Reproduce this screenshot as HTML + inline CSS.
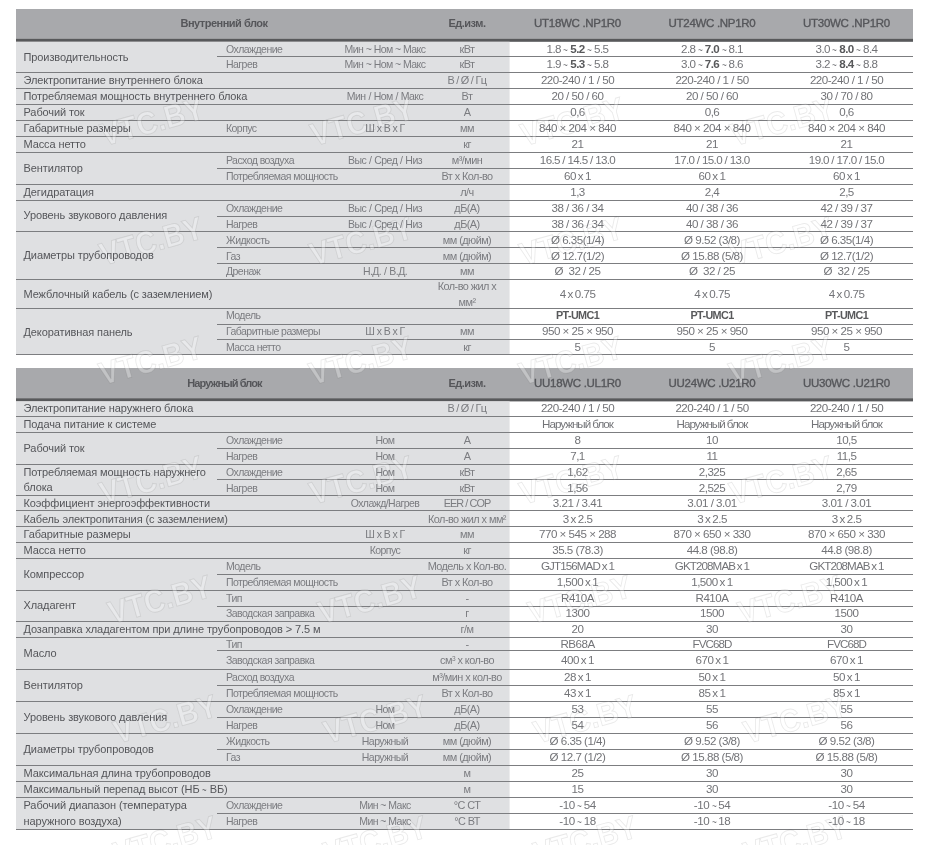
<!DOCTYPE html>
<html lang="ru"><head><meta charset="utf-8"><title>Технические характеристики</title>
<style>
html,body{margin:0;padding:0;background:#fff;}
body{width:931px;height:845px;position:relative;overflow:hidden;font-family:"Liberation Sans",sans-serif;}
svg{position:absolute;left:0;top:0;}
.t{position:absolute;white-space:nowrap;transform:translateY(-50%);line-height:1;}
.t.m{transform:translateY(-50%) scaleY(1);}
.t.h{transform:translateY(-50%) translateY(-1px) scaleY(1);}
.td{display:inline-block;transform:scaleX(0.7);margin:0 -1.0px;position:relative;top:1px;}
.t.hm{-webkit-text-stroke:0.35px #55565a;}
.t.c{width:300px;text-align:center;}
.m{font-size:11px;letter-spacing:-0.1px;color:#55565a;}
.s{font-size:10.5px;letter-spacing:-0.55px;color:#7b7c80;}
.v{font-size:11.6px;letter-spacing:-0.5px;color:#737478;}
.v b{font-weight:bold;color:#58595b;}
.v.b{font-weight:bold;color:#58595b;font-size:10.8px;letter-spacing:-0.6px;}
.h{font-size:11px;letter-spacing:-0.5px;color:#55565a;font-weight:bold;}
.hm{font-size:11.5px;letter-spacing:-0.3px;color:#55565a;}
sup{font-size:60%;vertical-align:baseline;position:relative;top:-0.45em;}
.wm{font-family:"Liberation Sans",sans-serif;font-size:32px;font-weight:bold;fill:rgba(255,255,255,0.3);stroke:rgba(0,0,0,0.085);stroke-width:1;text-anchor:middle;dominant-baseline:central;}
</style></head><body>
<svg width="931" height="845" viewBox="0 0 931 845">
<rect x="16" y="9" width="897" height="29.6" fill="#a8a9ac"/>
<rect x="16" y="38.6" width="897" height="3.2" fill="#58595b"/>
<rect x="16" y="41.8" width="493.6" height="313.0" fill="#dfe0e2"/>
<rect x="217.0" y="56" width="696.0" height="1" fill="#7c7d80"/>
<rect x="16" y="72" width="897" height="1" fill="#7c7d80"/>
<rect x="16" y="88" width="897" height="1" fill="#7c7d80"/>
<rect x="16" y="104" width="897" height="1" fill="#7c7d80"/>
<rect x="16" y="120" width="897" height="1" fill="#7c7d80"/>
<rect x="16" y="136" width="897" height="1" fill="#7c7d80"/>
<rect x="16" y="152" width="897" height="1" fill="#7c7d80"/>
<rect x="217.0" y="168" width="696.0" height="1" fill="#7c7d80"/>
<rect x="16" y="184" width="897" height="1" fill="#7c7d80"/>
<rect x="16" y="200" width="897" height="1" fill="#7c7d80"/>
<rect x="217.0" y="216" width="696.0" height="1" fill="#7c7d80"/>
<rect x="16" y="231" width="897" height="1" fill="#7c7d80"/>
<rect x="217.0" y="247" width="696.0" height="1" fill="#7c7d80"/>
<rect x="217.0" y="263" width="696.0" height="1" fill="#7c7d80"/>
<rect x="16" y="279" width="897" height="1" fill="#7c7d80"/>
<rect x="16" y="308" width="897" height="1" fill="#7c7d80"/>
<rect x="217.0" y="324" width="696.0" height="1" fill="#7c7d80"/>
<rect x="217.0" y="339" width="696.0" height="1" fill="#7c7d80"/>
<rect x="16" y="354" width="897" height="1" fill="#7c7d80"/>
<rect x="16" y="368" width="897" height="30.19999999999999" fill="#a8a9ac"/>
<rect x="16" y="398.2" width="897" height="3.2" fill="#58595b"/>
<rect x="16" y="401.4" width="493.6" height="427.9" fill="#dfe0e2"/>
<rect x="16" y="416" width="897" height="1" fill="#7c7d80"/>
<rect x="16" y="432" width="897" height="1" fill="#7c7d80"/>
<rect x="217.0" y="448" width="696.0" height="1" fill="#7c7d80"/>
<rect x="16" y="464" width="897" height="1" fill="#7c7d80"/>
<rect x="217.0" y="479" width="696.0" height="1" fill="#7c7d80"/>
<rect x="16" y="495" width="897" height="1" fill="#7c7d80"/>
<rect x="16" y="510" width="897" height="1" fill="#7c7d80"/>
<rect x="16" y="526" width="897" height="1" fill="#7c7d80"/>
<rect x="16" y="542" width="897" height="1" fill="#7c7d80"/>
<rect x="16" y="558" width="897" height="1" fill="#7c7d80"/>
<rect x="217.0" y="574" width="696.0" height="1" fill="#7c7d80"/>
<rect x="16" y="590" width="897" height="1" fill="#7c7d80"/>
<rect x="217.0" y="606" width="696.0" height="1" fill="#7c7d80"/>
<rect x="16" y="621" width="897" height="1" fill="#7c7d80"/>
<rect x="16" y="637" width="897" height="1" fill="#7c7d80"/>
<rect x="217.0" y="650" width="696.0" height="1" fill="#7c7d80"/>
<rect x="16" y="669" width="897" height="1" fill="#7c7d80"/>
<rect x="217.0" y="685" width="696.0" height="1" fill="#7c7d80"/>
<rect x="16" y="701" width="897" height="1" fill="#7c7d80"/>
<rect x="217.0" y="717" width="696.0" height="1" fill="#7c7d80"/>
<rect x="16" y="733" width="897" height="1" fill="#7c7d80"/>
<rect x="217.0" y="749" width="696.0" height="1" fill="#7c7d80"/>
<rect x="16" y="765" width="897" height="1" fill="#7c7d80"/>
<rect x="16" y="781" width="897" height="1" fill="#7c7d80"/>
<rect x="16" y="797" width="897" height="1" fill="#7c7d80"/>
<rect x="217.0" y="813" width="696.0" height="1" fill="#7c7d80"/>
<rect x="16" y="829" width="897" height="1" fill="#7c7d80"/>
<text x="0" y="0" transform="translate(152.0 121.0) rotate(-15.5) scale(0.9 1)" class="wm">VTC.BY</text>
<text x="0" y="0" transform="translate(362.0 121.0) rotate(-15.5) scale(0.9 1)" class="wm">VTC.BY</text>
<text x="0" y="0" transform="translate(572.0 121.0) rotate(-15.5) scale(0.9 1)" class="wm">VTC.BY</text>
<text x="0" y="0" transform="translate(782.0 121.0) rotate(-15.5) scale(0.9 1)" class="wm">VTC.BY</text>
<text x="0" y="0" transform="translate(151.0 240.5) rotate(-15.5) scale(0.9 1)" class="wm">VTC.BY</text>
<text x="0" y="0" transform="translate(361.0 240.5) rotate(-15.5) scale(0.9 1)" class="wm">VTC.BY</text>
<text x="0" y="0" transform="translate(571.0 240.5) rotate(-15.5) scale(0.9 1)" class="wm">VTC.BY</text>
<text x="0" y="0" transform="translate(781.0 240.5) rotate(-15.5) scale(0.9 1)" class="wm">VTC.BY</text>
<text x="0" y="0" transform="translate(150.5 360.0) rotate(-15.5) scale(0.9 1)" class="wm">VTC.BY</text>
<text x="0" y="0" transform="translate(360.5 360.0) rotate(-15.5) scale(0.9 1)" class="wm">VTC.BY</text>
<text x="0" y="0" transform="translate(570.5 360.0) rotate(-15.5) scale(0.9 1)" class="wm">VTC.BY</text>
<text x="0" y="0" transform="translate(780.5 360.0) rotate(-15.5) scale(0.9 1)" class="wm">VTC.BY</text>
<text x="0" y="0" transform="translate(151.0 479.5) rotate(-15.5) scale(0.9 1)" class="wm">VTC.BY</text>
<text x="0" y="0" transform="translate(361.0 479.5) rotate(-15.5) scale(0.9 1)" class="wm">VTC.BY</text>
<text x="0" y="0" transform="translate(571.0 479.5) rotate(-15.5) scale(0.9 1)" class="wm">VTC.BY</text>
<text x="0" y="0" transform="translate(781.0 479.5) rotate(-15.5) scale(0.9 1)" class="wm">VTC.BY</text>
<text x="0" y="0" transform="translate(159.5 599.0) rotate(-15.5) scale(0.9 1)" class="wm">VTC.BY</text>
<text x="0" y="0" transform="translate(369.5 599.0) rotate(-15.5) scale(0.9 1)" class="wm">VTC.BY</text>
<text x="0" y="0" transform="translate(579.5 599.0) rotate(-15.5) scale(0.9 1)" class="wm">VTC.BY</text>
<text x="0" y="0" transform="translate(789.5 599.0) rotate(-15.5) scale(0.9 1)" class="wm">VTC.BY</text>
<text x="0" y="0" transform="translate(165.0 718.5) rotate(-15.5) scale(0.9 1)" class="wm">VTC.BY</text>
<text x="0" y="0" transform="translate(375.0 718.5) rotate(-15.5) scale(0.9 1)" class="wm">VTC.BY</text>
<text x="0" y="0" transform="translate(585.0 718.5) rotate(-15.5) scale(0.9 1)" class="wm">VTC.BY</text>
<text x="0" y="0" transform="translate(795.0 718.5) rotate(-15.5) scale(0.9 1)" class="wm">VTC.BY</text>
<text x="0" y="0" transform="translate(165.0 839.5) rotate(-15.5) scale(0.9 1)" class="wm">VTC.BY</text>
<text x="0" y="0" transform="translate(375.0 839.5) rotate(-15.5) scale(0.9 1)" class="wm">VTC.BY</text>
<text x="0" y="0" transform="translate(585.0 839.5) rotate(-15.5) scale(0.9 1)" class="wm">VTC.BY</text>
<text x="0" y="0" transform="translate(795.0 839.5) rotate(-15.5) scale(0.9 1)" class="wm">VTC.BY</text>
</svg>
<div class="t c h" style="left:74px;top:23.8px;">Внутренний блок</div>
<div class="t c h" style="left:317px;top:23.8px;">Ед.изм.</div>
<div class="t c hm" style="left:427.5px;top:23.8px;">UT18WC .NP1R0</div>
<div class="t c hm" style="left:562px;top:23.8px;">UT24WC .NP1R0</div>
<div class="t c hm" style="left:696.5px;top:23.8px;">UT30WC .NP1R0</div>
<div class="t s" style="left:226px;top:48.95px;">Охлаждение</div>
<div class="t c s" style="left:235px;top:48.95px;">Мин ~ Ном ~ Макс</div>
<div class="t c s" style="left:317px;top:48.95px;font-size:10.9px;">кВт</div>
<div class="t c v" style="left:427.5px;top:48.95px;word-spacing:-0.3px;">1.8 <span class="td">~</span> <b>5.2</b> <span class="td">~</span> 5.5</div>
<div class="t c v" style="left:562px;top:48.95px;word-spacing:-0.3px;">2.8 <span class="td">~</span> <b>7.0</b> <span class="td">~</span> 8.1</div>
<div class="t c v" style="left:696.5px;top:48.95px;word-spacing:-0.3px;">3.0 <span class="td">~</span> <b>8.0</b> <span class="td">~</span> 8.4</div>
<div class="t s" style="left:226px;top:64.19999999999999px;">Нагрев</div>
<div class="t c s" style="left:235px;top:64.19999999999999px;">Мин ~ Ном ~ Макс</div>
<div class="t c s" style="left:317px;top:64.19999999999999px;font-size:10.9px;">кВт</div>
<div class="t c v" style="left:427.5px;top:64.19999999999999px;word-spacing:-0.3px;">1.9 <span class="td">~</span> <b>5.3</b> <span class="td">~</span> 5.8</div>
<div class="t c v" style="left:562px;top:64.19999999999999px;word-spacing:-0.3px;">3.0 <span class="td">~</span> <b>7.6</b> <span class="td">~</span> 8.6</div>
<div class="t c v" style="left:696.5px;top:64.19999999999999px;word-spacing:-0.3px;">3.2 <span class="td">~</span> <b>8.4</b> <span class="td">~</span> 8.8</div>
<div class="t c s" style="left:317px;top:80.15px;font-size:10.9px;word-spacing:-0.4px;">В / Ø / Гц</div>
<div class="t c v" style="left:427.5px;top:80.15px;">220-240 / 1 / 50</div>
<div class="t c v" style="left:562px;top:80.15px;">220-240 / 1 / 50</div>
<div class="t c v" style="left:696.5px;top:80.15px;">220-240 / 1 / 50</div>
<div class="t c s" style="left:235px;top:96.2px;word-spacing:0.5px;">Мин / Ном / Макс</div>
<div class="t c s" style="left:317px;top:96.2px;font-size:10.9px;">Вт</div>
<div class="t c v" style="left:427.5px;top:96.2px;">20 / 50 / 60</div>
<div class="t c v" style="left:562px;top:96.2px;">20 / 50 / 60</div>
<div class="t c v" style="left:696.5px;top:96.2px;">30 / 70 / 80</div>
<div class="t c s" style="left:317px;top:112.25px;font-size:10.9px;">А</div>
<div class="t c v" style="left:427.5px;top:112.25px;">0,6</div>
<div class="t c v" style="left:562px;top:112.25px;">0,6</div>
<div class="t c v" style="left:696.5px;top:112.25px;">0,6</div>
<div class="t s" style="left:226px;top:128.25px;">Корпус</div>
<div class="t c s" style="left:235px;top:128.25px;">Ш x В x Г</div>
<div class="t c s" style="left:317px;top:128.25px;font-size:10.9px;">мм</div>
<div class="t c v" style="left:427.5px;top:128.25px;">840 × 204 × 840</div>
<div class="t c v" style="left:562px;top:128.25px;">840 × 204 × 840</div>
<div class="t c v" style="left:696.5px;top:128.25px;">840 × 204 × 840</div>
<div class="t c s" style="left:317px;top:144.2px;font-size:10.9px;">кг</div>
<div class="t c v" style="left:427.5px;top:144.2px;">21</div>
<div class="t c v" style="left:562px;top:144.2px;">21</div>
<div class="t c v" style="left:696.5px;top:144.2px;">21</div>
<div class="t s" style="left:226px;top:160.25px;">Расход воздуха</div>
<div class="t c s" style="left:235px;top:160.25px;word-spacing:0.5px;">Выс / Сред / Низ</div>
<div class="t c s" style="left:317px;top:160.25px;font-size:10.9px;">м³/мин</div>
<div class="t c v" style="left:427.5px;top:160.25px;letter-spacing:-0.65px;">16.5 / 14.5 / 13.0</div>
<div class="t c v" style="left:562px;top:160.25px;letter-spacing:-0.65px;">17.0 / 15.0 / 13.0</div>
<div class="t c v" style="left:696.5px;top:160.25px;letter-spacing:-0.65px;">19.0 / 17.0 / 15.0</div>
<div class="t s" style="left:226px;top:176.35000000000002px;">Потребляемая мощность</div>
<div class="t c s" style="left:317px;top:176.35000000000002px;font-size:10.9px;">Вт x Кол-во</div>
<div class="t c v" style="left:427.5px;top:176.35000000000002px;word-spacing:-0.8px;">60 x 1</div>
<div class="t c v" style="left:562px;top:176.35000000000002px;word-spacing:-0.8px;">60 x 1</div>
<div class="t c v" style="left:696.5px;top:176.35000000000002px;word-spacing:-0.8px;">60 x 1</div>
<div class="t c s" style="left:317px;top:192.4px;font-size:10.9px;">л/ч</div>
<div class="t c v" style="left:427.5px;top:192.4px;">1,3</div>
<div class="t c v" style="left:562px;top:192.4px;">2,4</div>
<div class="t c v" style="left:696.5px;top:192.4px;">2,5</div>
<div class="t s" style="left:226px;top:208.2px;">Охлаждение</div>
<div class="t c s" style="left:235px;top:208.2px;word-spacing:0.5px;">Выс / Сред / Низ</div>
<div class="t c s" style="left:317px;top:208.2px;font-size:10.9px;">дБ(А)</div>
<div class="t c v" style="left:427.5px;top:208.2px;">38 / 36 / 34</div>
<div class="t c v" style="left:562px;top:208.2px;">40 / 38 / 36</div>
<div class="t c v" style="left:696.5px;top:208.2px;">42 / 39 / 37</div>
<div class="t s" style="left:226px;top:223.8px;">Нагрев</div>
<div class="t c s" style="left:235px;top:223.8px;word-spacing:0.5px;">Выс / Сред / Низ</div>
<div class="t c s" style="left:317px;top:223.8px;font-size:10.9px;">дБ(А)</div>
<div class="t c v" style="left:427.5px;top:223.8px;">38 / 36 / 34</div>
<div class="t c v" style="left:562px;top:223.8px;">40 / 38 / 36</div>
<div class="t c v" style="left:696.5px;top:223.8px;">42 / 39 / 37</div>
<div class="t s" style="left:226px;top:239.6px;">Жидкость</div>
<div class="t c s" style="left:317px;top:239.6px;font-size:10.9px;">мм (дюйм)</div>
<div class="t c v" style="left:427.5px;top:239.6px;">Ø 6.35(1/4)</div>
<div class="t c v" style="left:562px;top:239.6px;">Ø 9.52 (3/8)</div>
<div class="t c v" style="left:696.5px;top:239.6px;">Ø 6.35(1/4)</div>
<div class="t s" style="left:226px;top:255.55px;">Газ</div>
<div class="t c s" style="left:317px;top:255.55px;font-size:10.9px;">мм (дюйм)</div>
<div class="t c v" style="left:427.5px;top:255.55px;">Ø 12.7(1/2)</div>
<div class="t c v" style="left:562px;top:255.55px;">Ø 15.88 (5/8)</div>
<div class="t c v" style="left:696.5px;top:255.55px;">Ø 12.7(1/2)</div>
<div class="t s" style="left:226px;top:271.35px;">Дренаж</div>
<div class="t c s" style="left:235px;top:271.35px;word-spacing:0.5px;">Н.Д. / В.Д.</div>
<div class="t c s" style="left:317px;top:271.35px;font-size:10.9px;">мм</div>
<div class="t c v" style="left:427.5px;top:271.35px;">Ø&nbsp; 32 / 25</div>
<div class="t c v" style="left:562px;top:271.35px;">Ø&nbsp; 32 / 25</div>
<div class="t c v" style="left:696.5px;top:271.35px;">Ø&nbsp; 32 / 25</div>
<div class="t c s" style="left:317px;top:293.7px;line-height:16.2px;font-size:10.9px;">Кол-во жил x<br>мм²</div>
<div class="t c v" style="left:427.5px;top:293.7px;word-spacing:-0.8px;">4 x 0.75</div>
<div class="t c v" style="left:562px;top:293.7px;word-spacing:-0.8px;">4 x 0.75</div>
<div class="t c v" style="left:696.5px;top:293.7px;word-spacing:-0.8px;">4 x 0.75</div>
<div class="t s" style="left:226px;top:315.2px;">Модель</div>
<div class="t c v b" style="left:427.5px;top:315.2px;">PT-UMC1</div>
<div class="t c v b" style="left:562px;top:315.2px;">PT-UMC1</div>
<div class="t c v b" style="left:696.5px;top:315.2px;">PT-UMC1</div>
<div class="t s" style="left:226px;top:330.85px;">Габаритные размеры</div>
<div class="t c s" style="left:235px;top:330.85px;">Ш x В x Г</div>
<div class="t c s" style="left:317px;top:330.85px;font-size:10.9px;">мм</div>
<div class="t c v" style="left:427.5px;top:330.85px;">950 × 25 × 950</div>
<div class="t c v" style="left:562px;top:330.85px;">950 × 25 × 950</div>
<div class="t c v" style="left:696.5px;top:330.85px;">950 × 25 × 950</div>
<div class="t s" style="left:226px;top:346.65px;">Масса нетто</div>
<div class="t c s" style="left:317px;top:346.65px;font-size:10.9px;">кг</div>
<div class="t c v" style="left:427.5px;top:346.65px;">5</div>
<div class="t c v" style="left:562px;top:346.65px;">5</div>
<div class="t c v" style="left:696.5px;top:346.65px;">5</div>
<div class="t m" style="left:23.5px;top:56.849999999999994px;">Производительность</div>
<div class="t m" style="left:23.5px;top:80.15px;">Электропитание внутреннего блока</div>
<div class="t m" style="left:23.5px;top:96.2px;">Потребляемая мощность внутреннего блока</div>
<div class="t m" style="left:23.5px;top:112.25px;">Рабочий ток</div>
<div class="t m" style="left:23.5px;top:128.25px;">Габаритные размеры</div>
<div class="t m" style="left:23.5px;top:144.2px;">Масса нетто</div>
<div class="t m" style="left:23.5px;top:168.3px;">Вентилятор</div>
<div class="t m" style="left:23.5px;top:192.4px;">Дегидратация</div>
<div class="t m" style="left:23.5px;top:216.0px;margin-top:-1px;">Уровень звукового давления</div>
<div class="t m" style="left:23.5px;top:255.39999999999998px;">Диаметры трубопроводов</div>
<div class="t m" style="left:23.5px;top:293.7px;">Межблочный кабель (с заземлением)</div>
<div class="t m" style="left:23.5px;top:331.5px;">Декоративная панель</div>
<div class="t c h" style="left:74.5px;top:384.1px;letter-spacing:-0.9px;">Наружный блок</div>
<div class="t c h" style="left:317px;top:384.1px;">Ед.изм.</div>
<div class="t c hm" style="left:427.5px;top:384.1px;">UU18WC .UL1R0</div>
<div class="t c hm" style="left:562px;top:384.1px;">UU24WC .U21R0</div>
<div class="t c hm" style="left:696.5px;top:384.1px;">UU30WC .U21R0</div>
<div class="t c s" style="left:317px;top:407.75px;font-size:10.9px;word-spacing:-0.4px;">В / Ø / Гц</div>
<div class="t c v" style="left:427.5px;top:407.75px;">220-240 / 1 / 50</div>
<div class="t c v" style="left:562px;top:407.75px;">220-240 / 1 / 50</div>
<div class="t c v" style="left:696.5px;top:407.75px;">220-240 / 1 / 50</div>
<div class="t c v" style="left:427.5px;top:424.15px;letter-spacing:-1.0px;">Наружный блок</div>
<div class="t c v" style="left:562px;top:424.15px;letter-spacing:-1.0px;">Наружный блок</div>
<div class="t c v" style="left:696.5px;top:424.15px;letter-spacing:-1.0px;">Наружный блок</div>
<div class="t s" style="left:226px;top:440.1px;">Охлаждение</div>
<div class="t c s" style="left:235px;top:440.1px;">Ном</div>
<div class="t c s" style="left:317px;top:440.1px;font-size:10.9px;">А</div>
<div class="t c v" style="left:427.5px;top:440.1px;">8</div>
<div class="t c v" style="left:562px;top:440.1px;">10</div>
<div class="t c v" style="left:696.5px;top:440.1px;">10,5</div>
<div class="t s" style="left:226px;top:456.2px;">Нагрев</div>
<div class="t c s" style="left:235px;top:456.2px;">Ном</div>
<div class="t c s" style="left:317px;top:456.2px;font-size:10.9px;">А</div>
<div class="t c v" style="left:427.5px;top:456.2px;">7,1</div>
<div class="t c v" style="left:562px;top:456.2px;">11</div>
<div class="t c v" style="left:696.5px;top:456.2px;">11,5</div>
<div class="t s" style="left:226px;top:472.04999999999995px;">Охлаждение</div>
<div class="t c s" style="left:235px;top:472.04999999999995px;">Ном</div>
<div class="t c s" style="left:317px;top:472.04999999999995px;font-size:10.9px;">кВт</div>
<div class="t c v" style="left:427.5px;top:472.04999999999995px;">1,62</div>
<div class="t c v" style="left:562px;top:472.04999999999995px;">2,325</div>
<div class="t c v" style="left:696.5px;top:472.04999999999995px;">2,65</div>
<div class="t s" style="left:226px;top:487.5px;">Нагрев</div>
<div class="t c s" style="left:235px;top:487.5px;">Ном</div>
<div class="t c s" style="left:317px;top:487.5px;font-size:10.9px;">кВт</div>
<div class="t c v" style="left:427.5px;top:487.5px;">1,56</div>
<div class="t c v" style="left:562px;top:487.5px;">2,525</div>
<div class="t c v" style="left:696.5px;top:487.5px;">2,79</div>
<div class="t c s" style="left:235px;top:502.85px;">Охлажд/Нагрев</div>
<div class="t c s" style="left:317px;top:502.85px;font-size:10.9px;letter-spacing:-0.95px;word-spacing:0;">EER / COP</div>
<div class="t c v" style="left:427.5px;top:502.85px;">3.21 / 3.41</div>
<div class="t c v" style="left:562px;top:502.85px;">3.01 / 3.01</div>
<div class="t c v" style="left:696.5px;top:502.85px;">3.01 / 3.01</div>
<div class="t c s" style="left:317px;top:518.5px;font-size:10.9px;">Кол-во жил x мм²</div>
<div class="t c v" style="left:427.5px;top:518.5px;word-spacing:-0.8px;">3 x 2.5</div>
<div class="t c v" style="left:562px;top:518.5px;word-spacing:-0.8px;">3 x 2.5</div>
<div class="t c v" style="left:696.5px;top:518.5px;word-spacing:-0.8px;">3 x 2.5</div>
<div class="t c s" style="left:235px;top:534.4px;">Ш x В x Г</div>
<div class="t c s" style="left:317px;top:534.4px;font-size:10.9px;">мм</div>
<div class="t c v" style="left:427.5px;top:534.4px;">770 × 545 × 288</div>
<div class="t c v" style="left:562px;top:534.4px;">870 × 650 × 330</div>
<div class="t c v" style="left:696.5px;top:534.4px;">870 × 650 × 330</div>
<div class="t c s" style="left:235px;top:550.3px;">Корпус</div>
<div class="t c s" style="left:317px;top:550.3px;font-size:10.9px;">кг</div>
<div class="t c v" style="left:427.5px;top:550.3px;">35.5 (78.3)</div>
<div class="t c v" style="left:562px;top:550.3px;">44.8 (98.8)</div>
<div class="t c v" style="left:696.5px;top:550.3px;">44.8 (98.8)</div>
<div class="t s" style="left:226px;top:566.3px;">Модель</div>
<div class="t c s" style="left:317px;top:566.3px;font-size:10.9px;">Модель x Кол-во.</div>
<div class="t c v" style="left:427.5px;top:566.3px;letter-spacing:-0.9px;word-spacing:-0.5px;">GJT156MAD x 1</div>
<div class="t c v" style="left:562px;top:566.3px;letter-spacing:-0.9px;word-spacing:-0.5px;">GKT208MAB x 1</div>
<div class="t c v" style="left:696.5px;top:566.3px;letter-spacing:-0.9px;word-spacing:-0.5px;">GKT208MAB x 1</div>
<div class="t s" style="left:226px;top:582.4px;">Потребляемая мощность</div>
<div class="t c s" style="left:317px;top:582.4px;font-size:10.9px;">Вт x Кол-во</div>
<div class="t c v" style="left:427.5px;top:582.4px;word-spacing:-0.8px;">1,500 x 1</div>
<div class="t c v" style="left:562px;top:582.4px;word-spacing:-0.8px;">1,500 x 1</div>
<div class="t c v" style="left:696.5px;top:582.4px;word-spacing:-0.8px;">1,500 x 1</div>
<div class="t s" style="left:226px;top:598.25px;">Тип</div>
<div class="t c s" style="left:317px;top:598.25px;font-size:10.9px;">-</div>
<div class="t c v" style="left:427.5px;top:598.25px;">R410A</div>
<div class="t c v" style="left:562px;top:598.25px;">R410A</div>
<div class="t c v" style="left:696.5px;top:598.25px;">R410A</div>
<div class="t s" style="left:226px;top:613.0px;">Заводская заправка</div>
<div class="t c s" style="left:317px;top:613.0px;font-size:10.9px;">г</div>
<div class="t c v" style="left:427.5px;top:613.0px;">1300</div>
<div class="t c v" style="left:562px;top:613.0px;">1500</div>
<div class="t c v" style="left:696.5px;top:613.0px;">1500</div>
<div class="t c s" style="left:317px;top:628.8499999999999px;font-size:10.9px;">г/м</div>
<div class="t c v" style="left:427.5px;top:628.8499999999999px;">20</div>
<div class="t c v" style="left:562px;top:628.8499999999999px;">30</div>
<div class="t c v" style="left:696.5px;top:628.8499999999999px;">30</div>
<div class="t s" style="left:226px;top:644.15px;">Тип</div>
<div class="t c s" style="left:317px;top:644.15px;font-size:10.9px;">-</div>
<div class="t c v" style="left:427.5px;top:644.15px;">RB68A</div>
<div class="t c v" style="left:562px;top:644.15px;letter-spacing:-0.9px;word-spacing:-0.5px;">FVC68D</div>
<div class="t c v" style="left:696.5px;top:644.15px;letter-spacing:-0.9px;word-spacing:-0.5px;">FVC68D</div>
<div class="t s" style="left:226px;top:659.85px;">Заводская заправка</div>
<div class="t c s" style="left:317px;top:659.85px;font-size:10.9px;">см<sup>3</sup> x кол-во</div>
<div class="t c v" style="left:427.5px;top:659.85px;word-spacing:-0.8px;">400 x 1</div>
<div class="t c v" style="left:562px;top:659.85px;word-spacing:-0.8px;">670 x 1</div>
<div class="t c v" style="left:696.5px;top:659.85px;word-spacing:-0.8px;">670 x 1</div>
<div class="t s" style="left:226px;top:677.1500000000001px;">Расход воздуха</div>
<div class="t c s" style="left:317px;top:677.1500000000001px;font-size:10.9px;">м³/мин x кол-во</div>
<div class="t c v" style="left:427.5px;top:677.1500000000001px;word-spacing:-0.8px;">28 x 1</div>
<div class="t c v" style="left:562px;top:677.1500000000001px;word-spacing:-0.8px;">50 x 1</div>
<div class="t c v" style="left:696.5px;top:677.1500000000001px;word-spacing:-0.8px;">50 x 1</div>
<div class="t s" style="left:226px;top:693.25px;">Потребляемая мощность</div>
<div class="t c s" style="left:317px;top:693.25px;font-size:10.9px;">Вт x Кол-во</div>
<div class="t c v" style="left:427.5px;top:693.25px;word-spacing:-0.8px;">43 x 1</div>
<div class="t c v" style="left:562px;top:693.25px;word-spacing:-0.8px;">85 x 1</div>
<div class="t c v" style="left:696.5px;top:693.25px;word-spacing:-0.8px;">85 x 1</div>
<div class="t s" style="left:226px;top:709.4px;">Охлаждение</div>
<div class="t c s" style="left:235px;top:709.4px;">Ном</div>
<div class="t c s" style="left:317px;top:709.4px;font-size:10.9px;">дБ(А)</div>
<div class="t c v" style="left:427.5px;top:709.4px;">53</div>
<div class="t c v" style="left:562px;top:709.4px;">55</div>
<div class="t c v" style="left:696.5px;top:709.4px;">55</div>
<div class="t s" style="left:226px;top:725.3px;">Нагрев</div>
<div class="t c s" style="left:235px;top:725.3px;">Ном</div>
<div class="t c s" style="left:317px;top:725.3px;font-size:10.9px;">дБ(А)</div>
<div class="t c v" style="left:427.5px;top:725.3px;">54</div>
<div class="t c v" style="left:562px;top:725.3px;">56</div>
<div class="t c v" style="left:696.5px;top:725.3px;">56</div>
<div class="t s" style="left:226px;top:741.25px;">Жидкость</div>
<div class="t c s" style="left:235px;top:741.25px;">Наружный</div>
<div class="t c s" style="left:317px;top:741.25px;font-size:10.9px;">мм (дюйм)</div>
<div class="t c v" style="left:427.5px;top:741.25px;">Ø 6.35 (1/4)</div>
<div class="t c v" style="left:562px;top:741.25px;">Ø 9.52 (3/8)</div>
<div class="t c v" style="left:696.5px;top:741.25px;">Ø 9.52 (3/8)</div>
<div class="t s" style="left:226px;top:757.3499999999999px;">Газ</div>
<div class="t c s" style="left:235px;top:757.3499999999999px;">Наружный</div>
<div class="t c s" style="left:317px;top:757.3499999999999px;font-size:10.9px;">мм (дюйм)</div>
<div class="t c v" style="left:427.5px;top:757.3499999999999px;">Ø 12.7 (1/2)</div>
<div class="t c v" style="left:562px;top:757.3499999999999px;">Ø 15.88 (5/8)</div>
<div class="t c v" style="left:696.5px;top:757.3499999999999px;">Ø 15.88 (5/8)</div>
<div class="t c s" style="left:317px;top:773.25px;font-size:10.9px;">м</div>
<div class="t c v" style="left:427.5px;top:773.25px;">25</div>
<div class="t c v" style="left:562px;top:773.25px;">30</div>
<div class="t c v" style="left:696.5px;top:773.25px;">30</div>
<div class="t c s" style="left:317px;top:789.1px;font-size:10.9px;">м</div>
<div class="t c v" style="left:427.5px;top:789.1px;">15</div>
<div class="t c v" style="left:562px;top:789.1px;">30</div>
<div class="t c v" style="left:696.5px;top:789.1px;">30</div>
<div class="t s" style="left:226px;top:805.2px;">Охлаждение</div>
<div class="t c s" style="left:235px;top:805.2px;">Мин ~ Макс</div>
<div class="t c s" style="left:317px;top:805.2px;font-size:10.9px;">°C СТ</div>
<div class="t c v" style="left:427.5px;top:805.2px;word-spacing:-0.3px;">-10 <span class="td">~</span> 54</div>
<div class="t c v" style="left:562px;top:805.2px;word-spacing:-0.3px;">-10 <span class="td">~</span> 54</div>
<div class="t c v" style="left:696.5px;top:805.2px;word-spacing:-0.3px;">-10 <span class="td">~</span> 54</div>
<div class="t s" style="left:226px;top:821.3px;">Нагрев</div>
<div class="t c s" style="left:235px;top:821.3px;">Мин ~ Макс</div>
<div class="t c s" style="left:317px;top:821.3px;font-size:10.9px;">°C ВТ</div>
<div class="t c v" style="left:427.5px;top:821.3px;word-spacing:-0.3px;">-10 <span class="td">~</span> 18</div>
<div class="t c v" style="left:562px;top:821.3px;word-spacing:-0.3px;">-10 <span class="td">~</span> 18</div>
<div class="t c v" style="left:696.5px;top:821.3px;word-spacing:-0.3px;">-10 <span class="td">~</span> 18</div>
<div class="t m" style="left:23.5px;top:408.75px;margin-top:-1px;">Электропитание наружнего блока</div>
<div class="t m" style="left:23.5px;top:424.15px;">Подача питание к системе</div>
<div class="t m" style="left:23.5px;top:448.1px;">Рабочий ток</div>
<div class="t m" style="left:23.5px;top:479.65px;line-height:15.8px;margin-top:1px;">Потребляемая мощность наружнего<br>блока</div>
<div class="t m" style="left:23.5px;top:502.85px;">Коэффициент энергоэффективности</div>
<div class="t m" style="left:23.5px;top:518.5px;">Кабель электропитания (с заземлением)</div>
<div class="t m" style="left:23.5px;top:534.4px;">Габаритные размеры</div>
<div class="t m" style="left:23.5px;top:550.3px;">Масса нетто</div>
<div class="t m" style="left:23.5px;top:574.3px;">Компрессор</div>
<div class="t m" style="left:23.5px;top:606.15px;margin-top:-1px;">Хладагент</div>
<div class="t m" style="left:23.5px;top:629.8499999999999px;margin-top:-1px;">Дозаправка хладагентом при длине трубопроводов &gt; 7.5 м</div>
<div class="t m" style="left:23.5px;top:653.5px;margin-top:-1px;">Масло</div>
<div class="t m" style="left:23.5px;top:685.3px;">Вентилятор</div>
<div class="t m" style="left:23.5px;top:717.3px;">Уровень звукового давления</div>
<div class="t m" style="left:23.5px;top:749.3px;">Диаметры трубопроводов</div>
<div class="t m" style="left:23.5px;top:773.25px;">Максимальная длина трубопроводов</div>
<div class="t m" style="left:23.5px;top:789.1px;">Максимальный перепад высот (НБ <span class="td">~</span> ВБ)</div>
<div class="t m" style="left:23.5px;top:813.2px;line-height:15.8px;margin-top:1px;">Рабочий диапазон (температура<br>наружного воздуха)</div>
</body></html>
